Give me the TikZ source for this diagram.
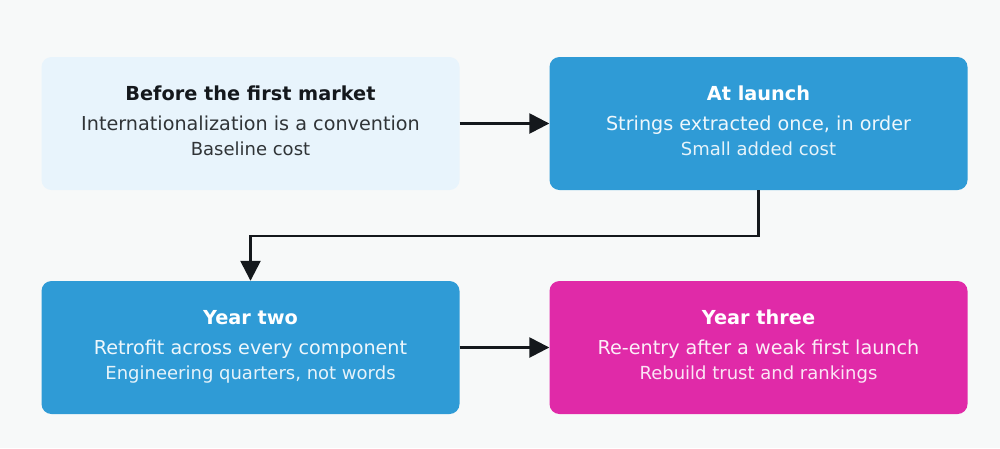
\documentclass[tikz,border=0pt]{standalone}
\usepackage{fontspec}
\setmainfont{DejaVu Sans}
\usetikzlibrary{arrows.meta}
\definecolor{bg}{HTML}{F7F9F9}
\definecolor{paleblue}{HTML}{E8F4FC}
\definecolor{midblue}{HTML}{2F9BD6}
\definecolor{magenta}{HTML}{E02AA8}
\definecolor{ink}{HTML}{14181C}
\tikzset{
  card/.style={draw=none, rounded corners=10pt, minimum width=418pt, minimum height=133pt, inner sep=0pt},
  ttl/.style={anchor=base, font=\fontsize{19.3}{22}\selectfont\bfseries},
  ln/.style={anchor=base, font=\fontsize{19.2}{22}\selectfont},
  sub/.style={anchor=base, font=\fontsize{18}{20}\selectfont},
  conn/.style={draw=ink, line width=2.6pt, -{Triangle[length=20pt,width=20pt]}},
}
\begin{document}
\begin{tikzpicture}[x=1pt,y=-1pt]
\fill[bg] (0,0) rectangle (1000,448);
\useasboundingbox (0,0) rectangle (1000,448);
% cards
\node[card, fill=paleblue] (b1) at (250.5,123.5) {};
\node[card, fill=midblue] (b2) at (758.5,123.5) {};
\node[card, fill=midblue] (b3) at (250.5,347.5) {};
\node[card, fill=magenta] (b4) at (758.5,347.5) {};
% texts
\node[ttl, text=ink] (t1) at (250.5,100.5) {Before the first market};
\node[ln, text=ink!88] (l1) at (250.5,130.5) {Internationalization is a convention};
\node[sub, text=ink!88] (s1) at (250.5,155) {Baseline cost};
\node[ttl, text=white] (t2) at (758.5,100.5) {At launch};
\node[ln, text=white!92!midblue] (l2) at (758.5,130.5) {Strings extracted once, in order};
\node[sub, text=white!88!midblue] (s2) at (758.5,155) {Small added cost};
\node[ttl, text=white] (t3) at (250.5,324.5) {Year two};
\node[ln, text=white!92!midblue] (l3) at (250.5,354.5) {Retrofit across every component};
\node[sub, text=white!88!midblue] (s3) at (250.5,379) {Engineering quarters, not words};
\node[ttl, text=white] (t4) at (758.5,324.5) {Year three};
\node[ln, text=white!92!magenta] (l4) at (758.5,354.5) {Re-entry after a weak first launch};
\node[sub, text=white!88!magenta] (s4) at (758.5,379) {Rebuild trust and rankings};
% connectors
\draw[conn] (b1.east) -- (b2.west);
\coordinate (m1) at (758.5,236);
\coordinate (m2) at (250.5,236);
\draw[conn] (b2.south) -- (m1) -- (m2) -- (b3.north);
\draw[conn] (b3.east) -- (b4.west);
\end{tikzpicture}
\end{document}
